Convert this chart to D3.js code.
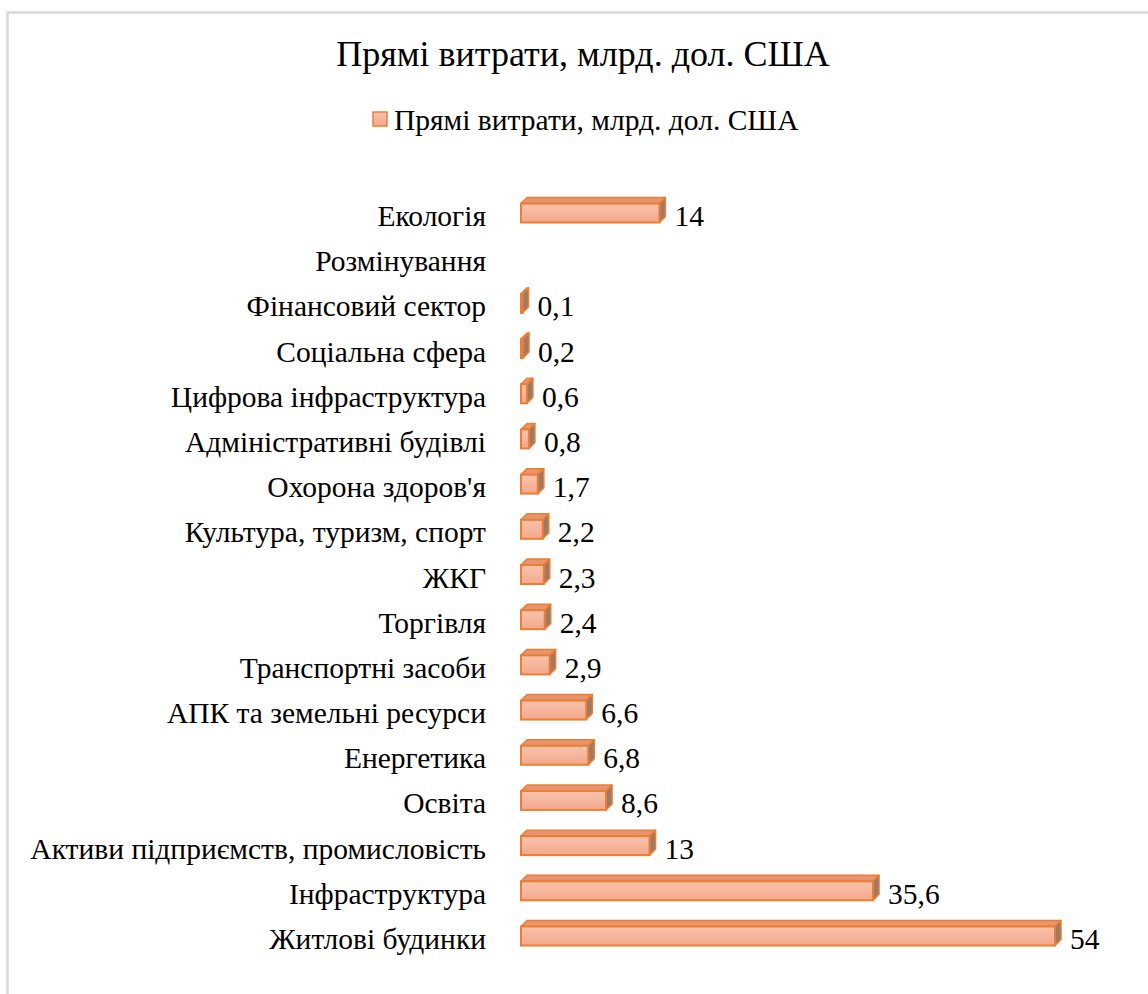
<!DOCTYPE html>
<html><head><meta charset="utf-8">
<script src="https://cdn.jsdelivr.net/npm/d3@7"></script>
</head><body style="margin:0"><svg id="c" width="1148" height="994" style="display:block"></svg>
<script>
const categories = ["Екологія","Розмінування","Фінансовий сектор","Соціальна сфера","Цифрова інфраструктура","Адміністративні будівлі","Охорона здоров'я","Культура, туризм, спорт","ЖКГ","Торгівля","Транспортні засоби","АПК та земельні ресурси","Енергетика","Освіта","Активи підприємств, промисловість","Інфраструктура","Житлові будинки"];
const values = [14,null,0.1,0.2,0.6,0.8,1.7,2.2,2.3,2.4,2.9,6.6,6.8,8.6,13,35.6,54];
const valueLabels = ["14","","0,1","0,2","0,6","0,8","1,7","2,2","2,3","2,4","2,9","6,6","6,8","8,6","13","35,6","54"];
const title = "Прямі витрати, млрд. дол. США";
const seriesName = "Прямі витрати, млрд. дол. США";
const FONT = "Liberation Serif, Tinos, Times New Roman, serif";

const svg = d3.select("#c");
svg.append("rect").attr("x",7.5).attr("y",12.5).attr("width",1200).attr("height",1100)
  .attr("fill","none").attr("stroke","#d9d9d9").attr("stroke-width",2.5);

const defs = svg.append("defs");
const g1 = defs.append("linearGradient").attr("id","gf").attr("x1",0).attr("y1",0).attr("x2",0).attr("y2",1);
g1.append("stop").attr("offset","0%").attr("stop-color","#f9c3ae");
g1.append("stop").attr("offset","100%").attr("stop-color","#f3a88c");

svg.append("text").attr("x",583).attr("y",66).attr("text-anchor","middle").attr("font-family",FONT).attr("font-size",36).attr("fill","#000").text(title);

const lg = svg.append("g");
lg.append("rect").attr("x",373).attr("y",112).attr("width",14).attr("height",14).attr("fill","url(#gf)").attr("stroke","#ed7d31").attr("stroke-width",1.5);
lg.append("text").attr("x",394).attr("y",130).attr("font-family",FONT).attr("font-size",29.5).attr("fill","#000").text(seriesName);

const x = d3.scaleLinear().domain([0,54]).range([521,1055]);
const y = d3.scalePoint().domain(categories).range([213,936]);
const h = 19, dx = 6, dy = 6;

svg.append("g").selectAll("text").data(categories).join("text")
  .attr("x",486).attr("y",d=>y(d)+13).attr("text-anchor","end")
  .attr("font-family",FONT).attr("font-size",29.5).attr("fill","#000").text(d=>d);

categories.forEach((c,i)=>{
  const v = values[i];
  if (v==null) return;
  const x0 = x(0), x1 = Math.max(x(v), x0+1.5), yt = y(c)-h/2, yb = y(c)+h/2;
  const g = svg.append("g");
  g.append("path").attr("d",`M${x0},${yt}L${x0+dx},${yt-dy}L${x1+dx},${yt-dy}L${x1},${yt}Z`).attr("fill","#e59570").attr("stroke","#ed7d31").attr("stroke-width",1.5).attr("stroke-linejoin","round");
  g.append("path").attr("d",`M${x1},${yt}L${x1+dx},${yt-dy}L${x1+dx},${yb-dy}L${x1},${yb}Z`).attr("fill","#9a7a6a").attr("stroke","#ed7d31").attr("stroke-width",1.5).attr("stroke-linejoin","round");
  g.append("rect").attr("x",x0).attr("y",yt).attr("width",x1-x0).attr("height",h).attr("fill","url(#gf)").attr("stroke","#ed7d31").attr("stroke-width",2);
  svg.append("text").attr("x",x1+dx+9).attr("y",y(c)+13).attr("font-family",FONT).attr("font-size",29.5).attr("fill","#000").text(valueLabels[i]);
});
</script></body></html>
